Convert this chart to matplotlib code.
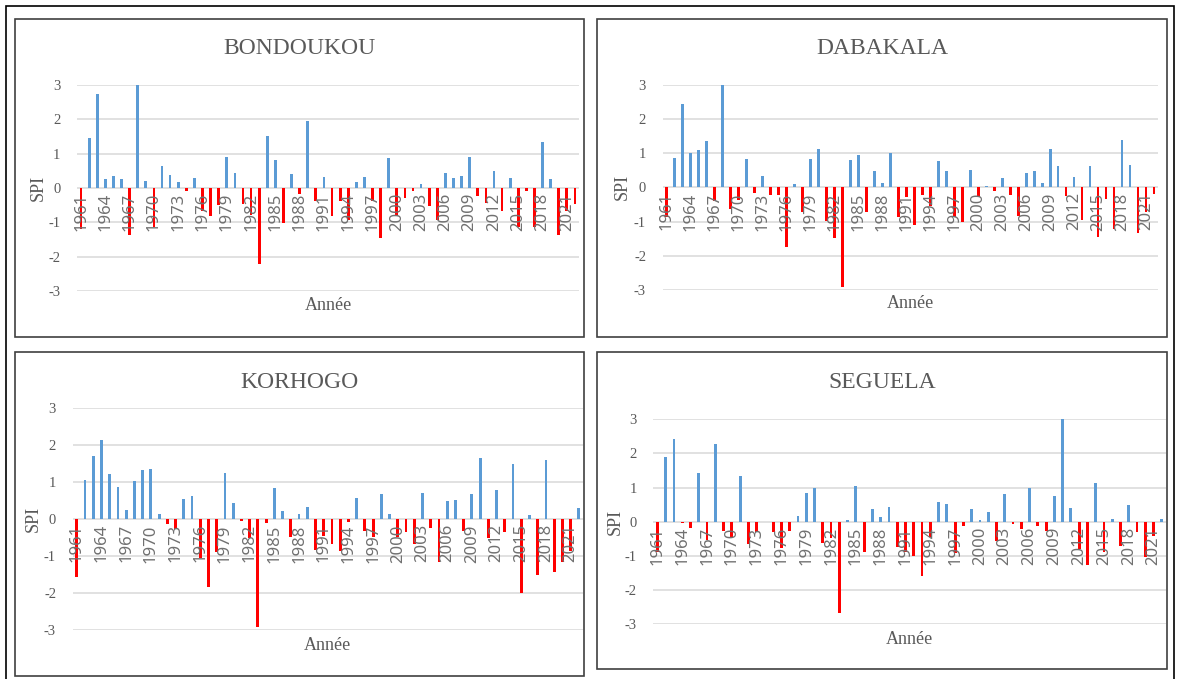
import numpy as np
import matplotlib
from matplotlib import pyplot as plt
from matplotlib.patches import Rectangle
from matplotlib import transforms

matplotlib.use('agg')
plt.rcParams['axes.unicode_minus'] = False

W, H = 1178, 679

years = np.arange(1961, 2023)
year_labels = list(range(1961, 2022, 3))

bondoukou = [-1.2, 1.44, 2.73, 0.26, 0.36, 0.26, -1.36, 3.0, 0.2, -1.13,
             0.64, 0.39, 0.17, -0.1, 0.29, -0.66, -0.82, -0.5, 0.9, 0.45,
             -0.47, -0.78, -2.22, 1.5, 0.8, -1.01, 0.42, -0.16, 1.96, -0.37,
             0.32, -0.82, -0.37, -0.93, 0.16, 0.32, -0.37, -1.46, 0.87, -0.81,
             -0.3, -0.1, 0.12, -0.53, -0.92, 0.45, 0.29, 0.35, 0.9, -0.24,
             -0.44, 0.48, -0.68, 0.29, -1.12, -0.1, -1.13, 1.35, 0.26, -1.36,
             -0.66, -0.47]

dabakala = [-0.86, 0.87, 2.45, 0.99, 1.09, 1.35, -0.39, 3.0, -0.62, -0.37,
            0.83, -0.16, 0.32, -0.21, -0.21, -1.73, 0.09, -0.72, 0.83, 1.12,
            -0.97, -1.49, -2.92, 0.8, 0.96, -0.72, 0.48, 0.13, 0.99, -0.86,
            -0.27, -1.11, -0.21, -0.55, 0.77, 0.48, -0.86, -1.0, 0.52, -0.27,
            0.03, -0.11, 0.26, -0.21, -0.83, 0.42, 0.48, 0.13, 1.12, 0.61,
            -0.24, 0.29, -0.95, 0.61, -1.44, -0.33, -1.21, 1.38, 0.64, -1.32,
            -0.72, -0.18]

korhogo = [-1.56, 1.05, 1.71, 2.13, 1.23, 0.87, 0.24, 1.02, 1.32, 1.35,
           0.13, -0.14, -0.27, 0.55, 0.63, -1.06, -1.83, -0.9, 1.26, 0.45,
           -0.05, -0.5, -2.91, -0.11, 0.84, 0.21, -0.49, 0.13, 0.33, -0.84,
           -0.45, -0.67, -0.87, -0.07, 0.58, -0.32, -0.48, 0.67, 0.15, -0.47,
           -0.36, -0.67, 0.72, -0.25, -1.15, 0.49, 0.51, -0.31, 0.67, 1.65,
           -0.52, 0.78, -0.34, 1.5, -2.0, 0.1, -1.5, 1.59, -1.44, -1.15,
           -0.87, 0.31]

seguela = [-0.88, 1.89, 2.43, -0.05, -0.2, 1.43, -0.54, 2.27, -0.27, -0.44,
           1.34, -0.65, -0.3, 0.0, -0.3, -0.78, -0.27, 0.17, 0.85, 0.98,
           -0.63, -0.47, -2.69, 0.04, 1.05, -0.88, 0.36, 0.13, 0.43, -0.75,
           -0.88, -1.0, -1.59, -0.44, 0.59, 0.52, -0.93, -0.12, 0.36, 0.05,
           0.27, -0.56, 0.82, -0.08, -0.23, 0.99, -0.12, -0.27, 0.75, 3.0,
           0.39, -0.81, -1.27, 1.14, -0.88, 0.07, -0.72, 0.5, -0.29, -1.04,
           -0.42, 0.08]

# name, values, panel box (x0, y0, x1, y1), plot area, title y, xlabel y, ylabel x  (pixels)
PANELS = [
    ("BONDOUKOU", bondoukou, (15, 19, 584, 337), (77, 84.7, 579, 291.3), 48, 306, 38),
    ("DABAKALA", dabakala, (597, 19, 1167, 337), (662.7, 84.7, 1158, 290), 48, 304, 622),
    ("KORHOGO", korhogo, (15, 352, 584, 676), (72.7, 408.3, 583, 630), 383, 645, 33),
    ("SEGUELA", seguela, (597, 352, 1167, 669), (653.3, 419.3, 1166, 624), 383, 640, 615),
]

BLUE = "#5B9BD5"
RED = "#FF0000"
GREY = "#595959"
SERIF = "Liberation Serif"


def fig_rect(x0, y0, x1, y1):
    return [x0 / W, 1 - y1 / H, (x1 - x0) / W, (y1 - y0) / H]


fig = plt.figure(figsize=(W / 100, H / 100), dpi=100)

# outer frame
fig.patches.append(Rectangle((6 / W, -0.01), 1168 / W, 1 - 6 / H + 0.01,
                             transform=fig.transFigure, fill=False,
                             edgecolor="black", linewidth=1.2))

for name, values, box, area, title_y, xlabel_y, ylabel_x in PANELS:
    bx0, by0, bx1, by1 = box
    fig.patches.append(Rectangle((bx0 / W, 1 - by1 / H), (bx1 - bx0) / W, (by1 - by0) / H,
                                 transform=fig.transFigure, fill=False,
                                 edgecolor="#404040", linewidth=1.2))

    ax = fig.add_axes(fig_rect(*area))
    vals = np.array(values)
    colors = [BLUE if v > 0 else RED for v in vals]
    ax.bar(years, vals, width=0.34, color=colors, zorder=3)

    ax.set_xlim(1960.5, 2022.5)
    ax.set_ylim(-3, 3)
    ax.set_yticks(range(-3, 4))
    ax.grid(axis="y", color="#D9D9D9", linewidth=1.1, zorder=0)
    for s in ax.spines.values():
        s.set_visible(False)
    ax.set_xticks([])
    ax.tick_params(axis="y", length=0, pad=12, labelsize=10.5, labelcolor=GREY)
    for lab in ax.get_yticklabels():
        lab.set_fontfamily(SERIF)

    # year labels sit just under the zero line, Excel style
    offset = transforms.offset_copy(ax.transData, fig=fig, x=0, y=-5, units="dots")
    for yr in year_labels:
        ax.text(yr, 0, str(yr), rotation=90, ha="center", va="top",
                fontsize=12, color="#707070", family="Noto Sans",
                transform=offset, zorder=4)

    ax_x0, ax_y0, ax_x1, ax_y1 = area
    fig.text((bx0 + bx1) / 2 / W, 1 - title_y / H, name, ha="center", va="center",
             fontsize=17, color=GREY, family=SERIF)
    fig.text((ax_x0 + ax_x1) / 2 / W, 1 - xlabel_y / H, "Année", ha="center", va="center",
             fontsize=13, color=GREY, family=SERIF)
    fig.text(ylabel_x / W, 1 - (ax_y0 + ax_y1) / 2 / H, "SPI", ha="center", va="center",
             rotation=90, fontsize=13, color=GREY, family=SERIF)

fig.savefig("out.png", dpi=100)
plt.close(fig)
